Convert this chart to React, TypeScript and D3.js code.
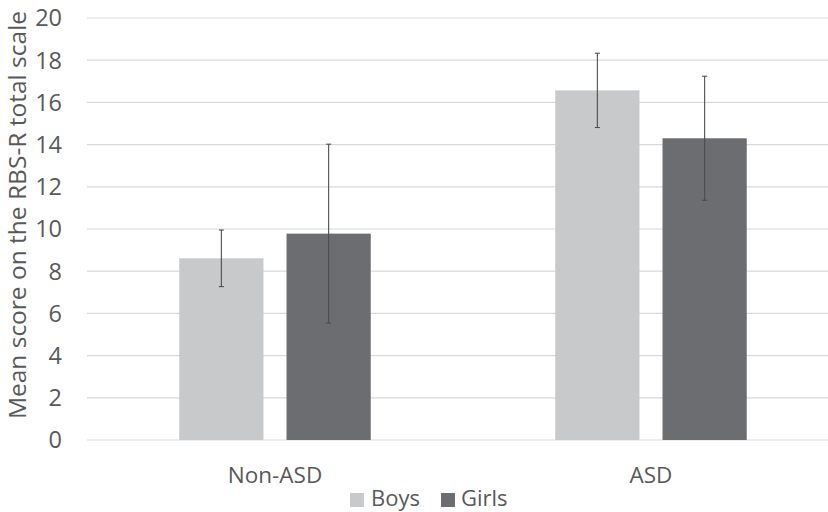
import React from "react";
import * as d3 from "d3";

// Mean RBS-R total score (with SD) by diagnostic group and sex
const groups = ["Non-ASD", "ASD"];
const series = ["Boys", "Girls"];
const boysMean = [8.61, 16.57];
const boysSD = [1.34, 1.76];
const girlsMean = [9.78, 14.3];
const girlsSD = [4.24, 2.94];
const yTicks = [0, 2, 4, 6, 8, 10, 12, 14, 16, 18, 20];

const colors: Record<string, string> = { Boys: "#c8c9cb", Girls: "#6c6d71" };
const W = 828;
const H = 512;
const FONT = "'Open Sans', 'DejaVu Sans', sans-serif";
const TEXT = "#595959";

export default function App() {
  const margin = { left: 87, right: -11, top: 18, bottom: 72 };
  const x0 = d3
    .scaleBand<string>()
    .domain(groups)
    .range([margin.left, W - margin.right])
    .paddingInner(0)
    .paddingOuter(0);
  const y = d3.scaleLinear().domain([0, 20]).range([H - margin.bottom, margin.top]);
  const x1 = d3
    .scaleBand<string>()
    .domain(series)
    .range([0, x0.bandwidth()])
    .paddingInner(0.215)
    .paddingOuter(0.86);

  const rows = groups.flatMap((g, i) => [
    { g, s: "Boys", mean: boysMean[i], sd: boysSD[i] },
    { g, s: "Girls", mean: girlsMean[i], sd: girlsSD[i] },
  ]);

  const [x0l, x0r] = x0.range();

  return (
    <div style={{ position: "absolute", left: 0, top: 0 }}>
      <svg width={W} height={H} style={{ display: "block", background: "#fff" }}>
        {yTicks.map((t) => (
          <g key={t}>
            <line x1={x0l} x2={x0r} y1={y(t)} y2={y(t)} stroke="#d9d9d9" strokeWidth={1.2} />
            <text
              x={62}
              y={y(t)}
              dy="0.36em"
              textAnchor="end"
              fontFamily={FONT}
              fontSize={23.5}
              fill={TEXT}
            >
              {t}
            </text>
          </g>
        ))}
        {rows.map((r) => {
          const bx = (x0(r.g) ?? 0) + (x1(r.s) ?? 0);
          const cx = bx + x1.bandwidth() / 2;
          return (
            <g key={r.g + r.s}>
              <rect
                x={bx}
                y={y(r.mean)}
                width={x1.bandwidth()}
                height={y(0) - y(r.mean)}
                fill={colors[r.s]}
              />
              <line x1={cx} x2={cx} y1={y(r.mean + r.sd)} y2={y(r.mean - r.sd)} stroke="#4d4d4d" strokeWidth={1.1} />
              <line x1={cx - 2.5} x2={cx + 2.5} y1={y(r.mean + r.sd)} y2={y(r.mean + r.sd)} stroke="#4d4d4d" strokeWidth={1.1} />
              <line x1={cx - 2.5} x2={cx + 2.5} y1={y(r.mean - r.sd)} y2={y(r.mean - r.sd)} stroke="#4d4d4d" strokeWidth={1.1} />
            </g>
          );
        })}
        {groups.map((g) => (
          <text
            key={g}
            x={(x0(g) ?? 0) + x0.bandwidth() / 2}
            y={483}
            textAnchor="middle"
            fontFamily={FONT}
            fontSize={22.5}
            fill={TEXT}
          >
            {g}
          </text>
        ))}
        <text
          transform={`translate(26, ${(y(0) + y(20)) / 2 - 14}) rotate(-90)`}
          textAnchor="middle"
          fontFamily={FONT}
          fontSize={24.5}
          fill={TEXT}
        >
          Mean score on the RBS-R total scale
        </text>
        <g>
          <rect x={350} y={493} width={14} height={14} fill={colors.Boys} />
          <text x={371} y={506} fontFamily={FONT} fontSize={22} fill={TEXT}>
            Boys
          </text>
          <rect x={441} y={493} width={14} height={14} fill={colors.Girls} />
          <text x={461} y={506} fontFamily={FONT} fontSize={22} fill={TEXT}>
            Girls
          </text>
        </g>
      </svg>
    </div>
  );
}
